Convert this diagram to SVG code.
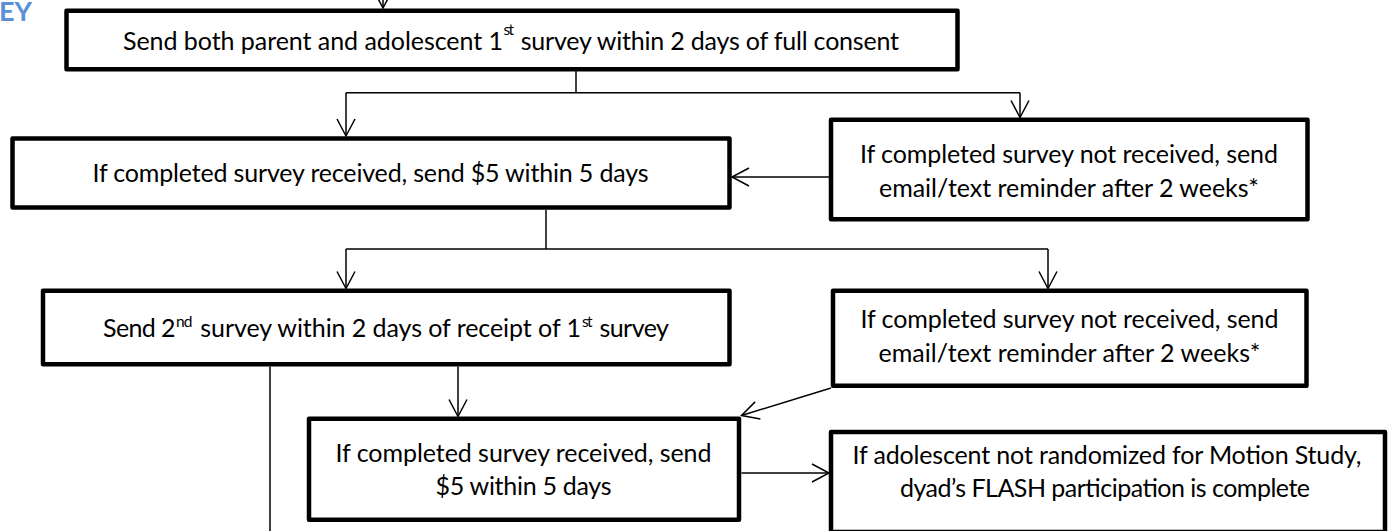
<svg xmlns="http://www.w3.org/2000/svg" width="1397" height="531" viewBox="0 0 1397 531">
<style>
.box{fill:#fff;stroke:#000;stroke-width:4.5;stroke-linejoin:round}
.t{font-family:Lato,"Open Sans","Liberation Sans",sans-serif;font-size:25px;fill:#000}
.c{text-anchor:middle}
.sup{font-size:15.5px}
.ln{fill:none;stroke:#000;stroke-width:1.5}
.hd{font-family:Lato,"Open Sans","Liberation Sans",sans-serif;font-size:27px;font-weight:bold;fill:#5b8fd6;text-anchor:end}
</style>
<defs>
<marker id="ah" viewBox="-19 -11 22 22" refX="0" refY="0" markerWidth="22" markerHeight="22" markerUnits="userSpaceOnUse" orient="auto">
<path d="M-17,-9 L0,0 L-17,9" fill="none" stroke="#000" stroke-width="1.5"/>
</marker>
</defs>
<rect width="1397" height="531" fill="#fff"/>
<g id="heading"><text class="hd" x="32" y="21">EY</text></g>
<g id="connectors">
<line class="ln" x1="383" y1="-20" x2="383" y2="8" marker-end="url(#ah)"/>
<line class="ln" x1="576" y1="71" x2="576" y2="92.7"/>
<line class="ln" x1="346" y1="92.7" x2="1020" y2="92.7"/>
<line class="ln" x1="346" y1="92.7" x2="346" y2="136" marker-end="url(#ah)"/>
<line class="ln" x1="1020" y1="92.7" x2="1020" y2="117.5" marker-end="url(#ah)"/>
<line class="ln" x1="829" y1="177" x2="732" y2="177" marker-end="url(#ah)"/>
<line class="ln" x1="546" y1="210" x2="546" y2="249"/>
<line class="ln" x1="346" y1="249" x2="1048" y2="249"/>
<line class="ln" x1="346" y1="249" x2="346" y2="288.5" marker-end="url(#ah)"/>
<line class="ln" x1="1048" y1="249" x2="1048" y2="288.5" marker-end="url(#ah)"/>
<line class="ln" x1="458" y1="366.5" x2="458" y2="416.5" marker-end="url(#ah)"/>
<line class="ln" x1="270" y1="366.5" x2="270" y2="531"/>
<line class="ln" x1="831" y1="388" x2="741.5" y2="415.5" marker-end="url(#ah)"/>
<line class="ln" x1="741.5" y1="473" x2="829" y2="473" marker-end="url(#ah)"/>
</g>
<g id="n1">
<rect class="box" x="66.5" y="10.7" width="891" height="58.5"/>
<text class="t"><tspan x="123" y="50" textLength="380">Send both parent and adolescent 1</tspan><tspan class="sup" x="503.5" y="35" textLength="10.5">st</tspan><tspan x="514.5" y="50" textLength="384.5"> survey within 2 days of full consent</tspan></text>
</g>
<g id="n2">
<rect class="box" x="12.5" y="138.5" width="717" height="69"/>
<text class="t c" x="370.5" y="182" textLength="556">If completed survey received, send $5 within 5 days</text>
</g>
<g id="n3">
<rect class="box" x="831" y="119.7" width="476.5" height="99.5"/>
<text class="t c" x="1069" y="163" textLength="418">If completed survey not received, send</text>
<text class="t c" x="1069" y="197" textLength="380">email/text reminder after 2 weeks*</text>
</g>
<g id="n4">
<rect class="box" x="43" y="290.7" width="686.5" height="73.5"/>
<text class="t"><tspan x="103" y="337" textLength="72.6">Send 2</tspan><tspan class="sup" x="176" y="327" textLength="16.5">nd</tspan><tspan x="194" y="337" textLength="387"> survey within 2 days of receipt of 1</tspan><tspan class="sup" x="582" y="327" textLength="10.5">st</tspan><tspan x="593.5" y="337" textLength="75.5"> survey</tspan></text>
</g>
<g id="n5">
<rect class="box" x="833" y="290.7" width="473.5" height="95"/>
<text class="t c" x="1069.5" y="328" textLength="418">If completed survey not received, send</text>
<text class="t c" x="1069.5" y="362" textLength="382">email/text reminder after 2 weeks*</text>
</g>
<g id="n6">
<rect class="box" x="309" y="418.8" width="430" height="101"/>
<text class="t c" x="523.5" y="462" textLength="376">If completed survey received, send</text>
<text class="t c" x="523.5" y="495" textLength="176">$5 within 5 days</text>
</g>
<g id="n7">
<rect class="box" x="831" y="432" width="554" height="100"/>
<text class="t c" x="1107" y="464" textLength="509">If adolescent not randomized for Motion Study,</text>
<text class="t c" x="1105" y="497" textLength="410">dyad’s FLASH participation is complete</text>
</g>
</svg>
